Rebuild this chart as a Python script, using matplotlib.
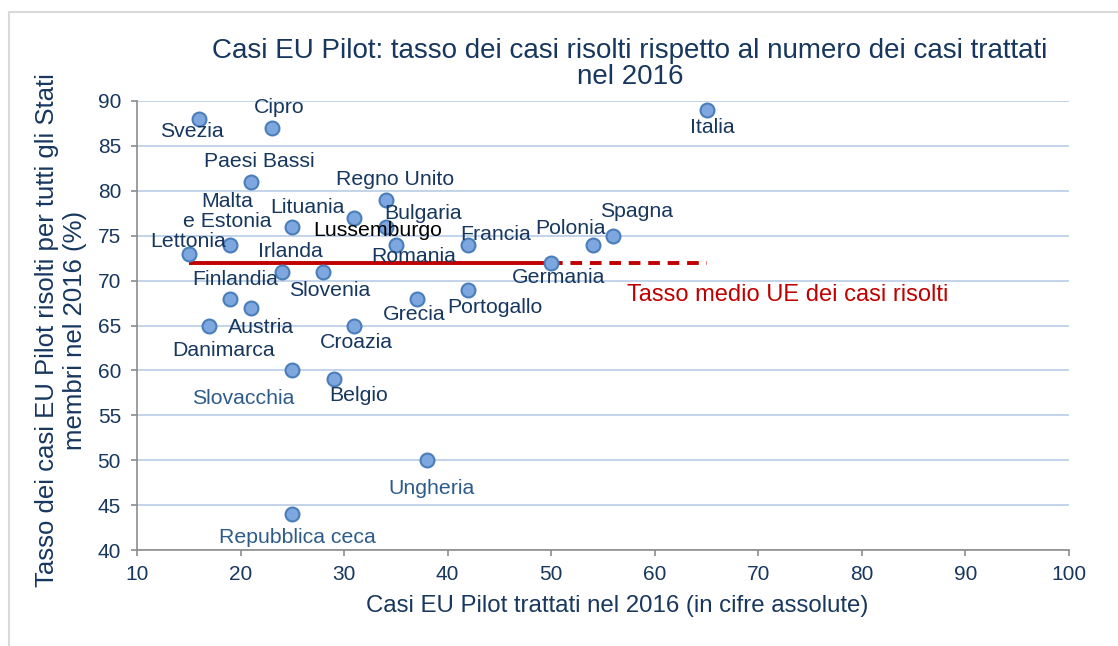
import matplotlib.pyplot as plt
from matplotlib.lines import Line2D

plt.rcParams['font.family'] = ['Liberation Sans', 'DejaVu Sans']

# data
countries = ['Svezia', 'Cipro', 'Paesi Bassi', 'Regno Unito', 'Lituania', 'Lussemburgo',
             'Bulgaria', 'Malta\ne Estonia', 'Lettonia', 'Romania', 'Francia', 'Polonia',
             'Spagna', 'Germania', 'Irlanda', 'Slovenia', 'Finlandia', 'Austria',
             'Danimarca', 'Croazia', 'Grecia', 'Portogallo', 'Slovacchia', 'Belgio',
             'Ungheria', 'Repubblica ceca', 'Italia']
cases = [16, 23, 21, 34, 25, 31, 34, 19, 15, 35, 42, 54, 56, 50, 24, 28, 19, 21,
         17, 31, 37, 42, 25, 29, 38, 25, 65]
rate = [88, 87, 81, 79, 76, 77, 76, 74, 73, 74, 74, 74, 75, 72, 71, 71, 68, 67,
        65, 65, 68, 69, 60, 59, 50, 44, 89]

eu_avg = 72
avg_solid = [15, 50]
avg_dashed = [50, 65]

# label offsets in pixels (dx right, dy down) relative to each point
label_off = {
    'Svezia': (-7, 13), 'Cipro': (8, -20), 'Paesi Bassi': (8, -20),
    'Regno Unito': (10, -20), 'Lituania': (15, -19), 'Lussemburgo': (23, 13),
    'Bulgaria': (38, -13), 'Malta\ne Estonia': (-3, -33), 'Lettonia': (-1, -12),
    'Romania': (18, 12), 'Francia': (27, -10), 'Polonia': (-22, -16),
    'Spagna': (23, -24), 'Germania': (7, 15), 'Irlanda': (8, -20),
    'Slovenia': (6, 19), 'Finlandia': (5, -19), 'Austria': (10, 20),
    'Danimarca': (14, 25), 'Croazia': (2, 17), 'Grecia': (-2, 16),
    'Portogallo': (26, 18), 'Slovacchia': (-49, 28), 'Belgio': (25, 16),
    'Ungheria': (5, 28), 'Repubblica ceca': (5, 23), 'Italia': (6, 18),
}
label_col = {'Lussemburgo': 'black', 'Slovacchia': '#2E5C8A',
             'Ungheria': '#2E5C8A', 'Repubblica ceca': '#2E5C8A'}

navy = '#17375E'
grid_c = '#B9CDE5'
spine_c = '#8C8C8C'
W, H = 1118, 646

fig = plt.figure(figsize=(11.18, 6.46), dpi=100)
ax = fig.add_axes([137/W, 1-550/H, (1069-137)/W, (550-101)/H])

# outer chart border (top and left visible)
fig.add_artist(Line2D([9/W, 1], [1-12/H, 1-12/H], color='#D9D9D9', lw=1.5))
fig.add_artist(Line2D([9/W, 9/W], [0, 1-12/H], color='#D9D9D9', lw=1.5))

ax.set_xlim(10, 100)
ax.set_ylim(40, 90)
ax.set_xticks(range(10, 101, 10))
ax.set_yticks(range(40, 91, 5))
ax.yaxis.grid(True, color=grid_c, lw=1.2)
ax.set_axisbelow(True)
for s in ['top', 'right']:
    ax.spines[s].set_visible(False)
for s in ['left', 'bottom']:
    ax.spines[s].set_color(spine_c)
    ax.spines[s].set_linewidth(1.2)
ax.tick_params(axis='both', direction='out', length=4.5, width=1.2, color=spine_c,
               labelsize=15, labelcolor=navy)
ax.tick_params(axis='y', pad=7)
ax.tick_params(axis='x', pad=6)

# EU average line
ax.plot(avg_solid, [eu_avg, eu_avg], color='#C00000', lw=2.8, zorder=2, solid_capstyle='butt')
ax.plot(avg_dashed, [eu_avg, eu_avg], color='#C00000', lw=2.8, ls=(0, (3, 2)), zorder=2)

ax.scatter(cases, rate, s=100, color='#7EA7DF', edgecolor='#4A7EBB', lw=1.5, zorder=3)

for name, x, y in zip(countries, cases, rate):
    dx, dy = label_off[name]
    ax.annotate(name, (x, y), xytext=(dx * 0.72, -dy * 0.72), textcoords='offset points',
                ha='center', va='center', fontsize=15.3, color=label_col.get(name, navy),
                linespacing=1.05, zorder=4)

ax.text(57.3, 68.4, 'Tasso medio UE dei casi risolti', color='#C00000', fontsize=17,
        ha='left', va='center')

fig.text(617/W, 1-606/H, 'Casi EU Pilot trattati nel 2016 (in cifre assolute)',
         fontsize=17.3, color=navy, ha='center', va='center')
fig.text(61/W, 1-330/H, 'Tasso dei casi EU Pilot risolti per tutti gli Stati\nmembri nel 2016 (%)',
         fontsize=18.5, color=navy, ha='center', va='center', rotation=90,
         linespacing=1.23, multialignment='center')
fig.text(630/W, 1-64/H, 'Casi EU Pilot: tasso dei casi risolti rispetto al numero dei casi trattati\nnel 2016',
         ha='center', va='center', fontsize=20, color=navy, linespacing=1.05)

fig.savefig('out.png', dpi=100)
